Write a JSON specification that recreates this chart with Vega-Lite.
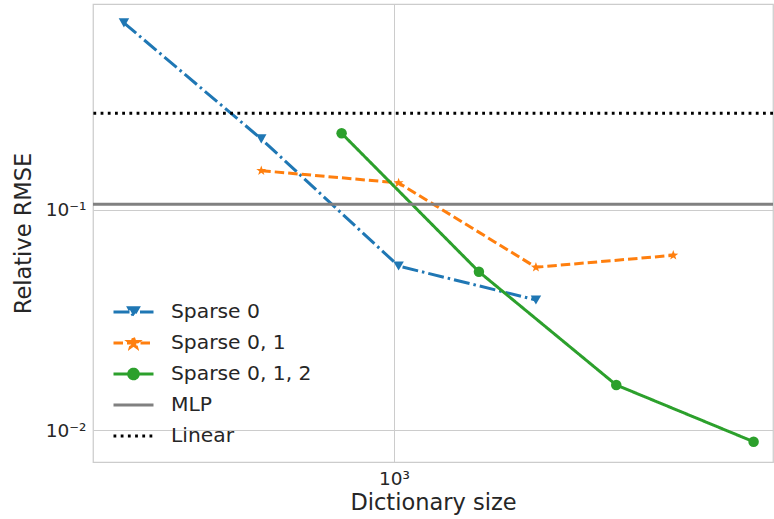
{
  "$schema": "https://vega.github.io/schema/vega-lite/v6.json",
  "width": 680,
  "height": 458,
  "autosize": "none",
  "padding": {"left": 93, "top": 4, "right": 1, "bottom": 57},
  "background": "white",
  "datasets": {
    "curves": [
      {"series": "Sparse 0", "x": 256, "y": 0.702},
      {"series": "Sparse 0", "x": 512, "y": 0.209},
      {"series": "Sparse 0", "x": 1024, "y": 0.0554},
      {"series": "Sparse 0", "x": 2048, "y": 0.0389},
      {"series": "Sparse 0, 1", "x": 512, "y": 0.150},
      {"series": "Sparse 0, 1", "x": 1024, "y": 0.132},
      {"series": "Sparse 0, 1", "x": 2048, "y": 0.0547},
      {"series": "Sparse 0, 1", "x": 4096, "y": 0.0620},
      {"series": "Sparse 0, 1, 2", "x": 768, "y": 0.2216},
      {"series": "Sparse 0, 1, 2", "x": 1536, "y": 0.0522},
      {"series": "Sparse 0, 1, 2", "x": 3072, "y": 0.0160},
      {"series": "Sparse 0, 1, 2", "x": 6144, "y": 0.00885}
    ],
    "refs": [
      {"series": "MLP", "y": 0.1056},
      {"series": "Linear", "y": 0.273}
    ]
  },
  "config": {
    "font": "DejaVu Sans",
    "view": {"stroke": "#cccccc", "strokeWidth": 1.25},
    "axis": {
      "grid": true, "gridColor": "#cccccc", "gridWidth": 1,
      "domain": false, "ticks": false,
      "labelFontSize": 18.5, "labelColor": "#262626",
      "titleFontSize": 22.5, "titleColor": "#262626", "titleFontWeight": "normal"
    },
    "legend": {"labelColor": "#262626", "labelFontSize": 20.3}
  },
  "layer": [
    {
      "data": {"name": "curves"},
      "mark": {"type": "line", "strokeWidth": 3},
      "encoding": {
        "x": {"field": "x", "type": "quantitative",
              "scale": {"type": "log", "domain": [219, 6776], "nice": false, "zero": false},
              "axis": {"values": [1000], "labelExpr": "'10³'", "title": "Dictionary size", "labelPadding": 7, "titlePadding": 4}},
        "y": {"field": "y", "type": "quantitative",
              "scale": {"type": "log", "domain": [0.00716, 0.855], "nice": false, "zero": false},
              "axis": {"values": [0.01, 0.1], "labelExpr": "datum.value < 0.05 ? '10⁻²' : '10⁻¹'", "title": "Relative RMSE", "labelPadding": 7, "titlePadding": 10}},
        "color": {"field": "series", "type": "nominal",
                  "scale": {"domain": ["Sparse 0", "Sparse 0, 1", "Sparse 0, 1, 2", "MLP", "Linear"],
                            "range": ["#1f77b4", "#ff7f0e", "#2ca02c", "#808080", "#000000"]},
                  "legend": {"title": null, "orient": "none", "legendX": 19, "legendY": 293,
                             "symbolSize": 1600, "symbolStrokeWidth": 3, "labelOffset": 16, "rowPadding": 1, "clipHeight": 30,
                             "labelFontSize": 20.3, "labelColor": "#262626",
                             "encode": {"symbols": {"update": {
                               "shape": {"signal": "datum.value === 'Sparse 0' ? 'M-1,0H1M-0.24,-0.21H0.24L0,0.21Z' : datum.value === 'Sparse 0, 1' ? 'M-1,0H1M0,-0.26L0.061,-0.084L0.247,-0.08L0.099,0.032L0.153,0.21L0,0.104L-0.153,0.21L-0.099,0.032L-0.247,-0.08L-0.061,-0.084Z' : datum.value === 'Sparse 0, 1, 2' ? 'M-1,0H1M-0.24,0A0.24,0.24 0 1,0 0.24,0A0.24,0.24 0 1,0 -0.24,0Z' : 'M-1,0H1'"},
                               "fill": {"scale": "color", "field": "value"},
                               "stroke": {"scale": "color", "field": "value"},
                               "size": {"value": 1600},
                               "strokeWidth": {"value": 3},
                               "opacity": {"value": 1}
                             }}}}},
        "strokeDash": {"field": "series", "type": "nominal",
                       "scale": {"domain": ["Sparse 0", "Sparse 0, 1", "Sparse 0, 1, 2", "MLP", "Linear"],
                                 "range": [[16, 4, 2.5, 4], [9.5, 4], [1, 0], [1, 0], [2.8, 4.4]]},
                       "legend": {"title": null, "orient": "none", "legendX": 19, "legendY": 293}}
      }
    },
    {
      "data": {"name": "refs"},
      "mark": {"type": "rule", "strokeWidth": 3},
      "encoding": {
        "y": {"field": "y", "type": "quantitative"},
        "color": {"field": "series", "type": "nominal"},
        "strokeDash": {"field": "series", "type": "nominal"}
      }
    },
    {
      "data": {"name": "curves"},
      "mark": {"type": "point", "filled": true, "opacity": 1, "size": 110, "strokeWidth": 0},
      "encoding": {
        "x": {"field": "x", "type": "quantitative"},
        "y": {"field": "y", "type": "quantitative"},
        "color": {"field": "series", "type": "nominal"},
        "shape": {"field": "series", "type": "nominal", "legend": null,
                  "scale": {"domain": ["Sparse 0", "Sparse 0, 1", "Sparse 0, 1, 2"],
                            "range": ["triangle-down", "M0,-1L0.235,-0.324L0.951,-0.309L0.380,0.124L0.588,0.809L0,0.4L-0.588,0.809L-0.380,0.124L-0.951,-0.309L-0.235,-0.324Z", "circle"]}}
      }
    }
  ]
}
